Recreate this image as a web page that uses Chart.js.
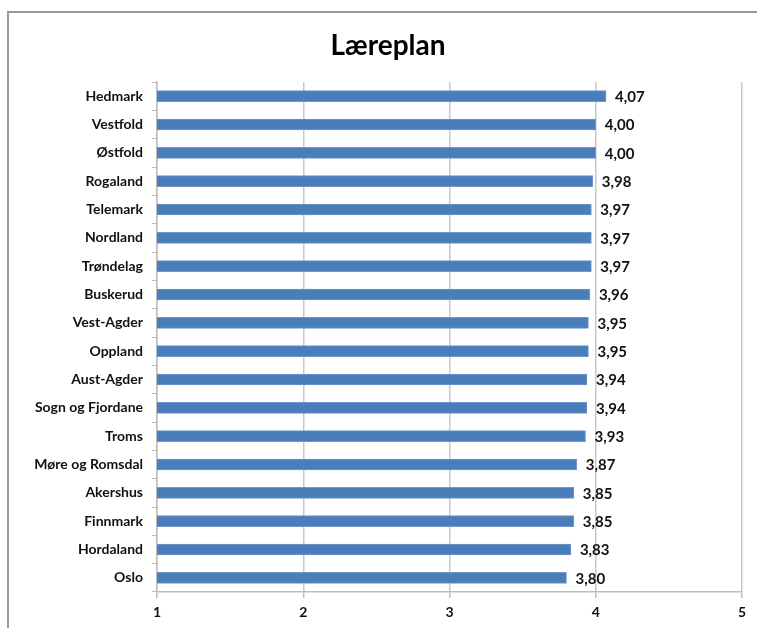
<!DOCTYPE html>
<html lang="no">
<head>
    <meta charset="UTF-8">
    <title>Læreplan</title>
    <script src="https://cdn.jsdelivr.net/npm/chart.js"></script>
    <style>
        body {
            margin: 0;
            background: #fff;
        }
        #wrap {
            position: relative;
            width: 757px;
            height: 628px;
            overflow: hidden;
        }
        #frame {
            position: absolute;
            left: 7px;
            top: 11px;
            width: 800px;
            height: 700px;
            border-left: 2px solid #9a9a9a;
            border-top: 2px solid #9a9a9a;
        }
        canvas {
            position: absolute;
            left: 0;
            top: 0;
        }
    </style>
</head>
<body>
    <div id="wrap">
        <div id="frame"></div>
        <canvas id="chart" width="757" height="628"></canvas>
    </div>

    <script>
        const tittel = 'Læreplan';
        const fylker = ['Hedmark', 'Vestfold', 'Østfold', 'Rogaland', 'Telemark', 'Nordland',
            'Trøndelag', 'Buskerud', 'Vest-Agder', 'Oppland', 'Aust-Agder', 'Sogn og Fjordane',
            'Troms', 'Møre og Romsdal', 'Akershus', 'Finnmark', 'Hordaland', 'Oslo'];
        const snitt = [4.07, 4.00, 4.00, 3.98, 3.97, 3.97, 3.97, 3.96, 3.95, 3.95, 3.94, 3.94,
            3.93, 3.87, 3.85, 3.85, 3.83, 3.80];
        const xTicks = [1, 2, 3, 4, 5];

        const fam = 'Lato, "Liberation Sans", sans-serif';

        // title is centred on the whole frame, not the plot, so draw it by hand
        const titlePlugin = {
            id: 'titlePlugin',
            afterDraw(chart) {
                const ctx = chart.ctx;
                ctx.save();
                ctx.font = 'bold 28px ' + fam;
                ctx.fillStyle = '#000';
                ctx.textAlign = 'center';
                ctx.textBaseline = 'middle';
                ctx.fillText(tittel, 388, 46);
                ctx.restore();
            }
        };

        // value labels to the right of each bar, comma decimals
        const valueLabels = {
            id: 'valueLabels',
            afterDatasetsDraw(chart) {
                const ctx = chart.ctx;
                const meta = chart.getDatasetMeta(0);
                ctx.save();
                ctx.font = 'bold 15px ' + fam;
                ctx.fillStyle = '#111';
                ctx.textBaseline = 'middle';
                ctx.textAlign = 'left';
                meta.data.forEach((bar, i) => {
                    const txt = snitt[i].toFixed(2).replace('.', ',');
                    ctx.fillText(txt, bar.x + 9, bar.y + 1);
                });
                ctx.restore();
            }
        };

        new Chart(document.getElementById('chart'), {
            type: 'bar',
            data: {
                labels: fylker,
                datasets: [{
                    data: snitt,
                    backgroundColor: '#4a7ebb',
                    borderColor: '#6f98cb',
                    borderWidth: 1,
                    barThickness: 11
                }]
            },
            options: {
                indexAxis: 'y',
                responsive: false,
                animation: false,
                layout: { padding: { left: 0, right: 15, top: 82, bottom: 0 } },
                plugins: {
                    legend: { display: false },
                    tooltip: { enabled: false },
                    title: { display: false }
                },
                scales: {
                    x: {
                        min: 1,
                        max: 5,
                        afterBuildTicks(scale) {
                            scale.ticks = xTicks.map(v => ({ value: v }));
                        },
                        afterFit(scale) { scale.height = 36; },
                        grid: {
                            color: '#c8c8c8',
                            lineWidth: 1.5,
                            drawTicks: true,
                            tickLength: 6,
                            tickColor: '#bdbdbd'
                        },
                        border: { display: true, color: '#bdbdbd', width: 1.5 },
                        ticks: {
                            color: '#111',
                            padding: 6,
                            font: { family: fam, size: 14, weight: 'bold' }
                        }
                    },
                    y: {
                        afterFit(scale) { scale.width = 157; },
                        grid: {
                            offset: true,
                            drawOnChartArea: false,
                            drawTicks: true,
                            tickLength: 5,
                            tickColor: '#bdbdbd'
                        },
                        border: { display: true, color: '#bdbdbd', width: 1.5 },
                        ticks: {
                            color: '#111',
                            padding: 9,
                            autoSkip: false,
                            font: { family: fam, size: 14, weight: 'bold' }
                        }
                    }
                }
            },
            plugins: [valueLabels, titlePlugin]
        });
    </script>
</body>
</html>
